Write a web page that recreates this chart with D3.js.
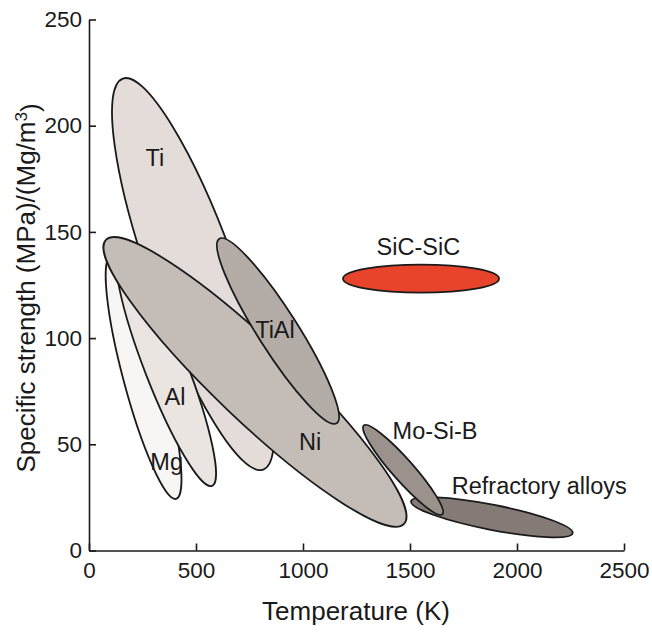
<!DOCTYPE html>
<html>
<head>
<meta charset="utf-8">
<script src="https://cdn.jsdelivr.net/npm/d3@7"></script>
<style>
  html, body { margin: 0; padding: 0; background: #ffffff; }
  svg { display: block; }
  text { font-family: "Liberation Sans", Arial, Helvetica, sans-serif; fill: #1a1a1a; }
</style>
</head>
<body>
<svg id="chart" width="652" height="632"></svg>
<script>
// Material property fields: each field is an ellipse whose long axis runs
// from (tempLow, strengthHigh) to (tempHigh, strengthLow).
const materials    = ["Ti", "Mg", "Al", "Ni", "TiAl", "Refractory alloys", "Mo-Si-B", "SiC-SiC"];
const tempLow      = [158, 103, 145,   79,  609, 1505, 1284, 1187];
const strengthHigh = [222.2, 138.7, 141.5, 146.2, 146.8, 23.1, 58.9, 128];
const tempHigh     = [814, 407, 575, 1472, 1157, 2260, 1651, 1916];
const strengthLow  = [38.1, 24.3, 30.4, 12.5, 59.9, 8.2, 17.0, 128];
// spread of each field across its long axis (minor / major)
const spread       = [0.207, 0.16, 0.166, 0.19, 0.183, 0.152, 0.18, 0.18];

// where each field's name sits
const labelTemp     = [308, 363, 402, 1033, 869, 2104, 1617, 1539];
const labelStrength = [184.8, 41.8, 72.4, 51.2, 103.8, 30.8, 56.4, 143];

const xTicks = [0, 500, 1000, 1500, 2000, 2500];
const yTicks = [0, 50, 100, 150, 200, 250];

const fillColor = d3.scaleOrdinal()
  .domain(materials)
  .range(["#e3dcd9", "#f8f6f5", "#ebe5e2", "#c4bcb7", "#b4aca7", "#847b76", "#9b928d", "#e8432b"]);

const svg = d3.select("#chart");
const x = d3.scaleLinear().domain([0, 2500]).range([89, 624]);
const y = d3.scaleLinear().domain([0, 250]).range([550.5, 19.5]);

const fields = materials.map((name, i) => {
  const x1 = x(tempLow[i]), y1 = y(strengthHigh[i]);
  const x2 = x(tempHigh[i]), y2 = y(strengthLow[i]);
  const rx = Math.hypot(x2 - x1, y2 - y1) / 2;
  return {
    name,
    cx: (x1 + x2) / 2,
    cy: (y1 + y2) / 2,
    rx,
    ry: rx * spread[i],
    angle: Math.atan2(y2 - y1, x2 - x1) * 180 / Math.PI
  };
});

svg.append("g").selectAll("ellipse")
  .data(fields)
  .join("ellipse")
  .attr("cx", d => d.cx)
  .attr("cy", d => d.cy)
  .attr("rx", d => d.rx)
  .attr("ry", d => d.ry)
  .attr("transform", d => `rotate(${d.angle} ${d.cx} ${d.cy})`)
  .attr("fill", d => fillColor(d.name))
  .attr("stroke", "#1a1a1a")
  .attr("stroke-width", 1.8);

svg.append("g").selectAll("text")
  .data(materials)
  .join("text")
  .attr("x", (d, i) => x(labelTemp[i]))
  .attr("y", (d, i) => y(labelStrength[i]))
  .attr("dy", "0.36em")
  .attr("text-anchor", "middle")
  .style("font-size", "23.5px")
  .text(d => d);

// axes with inward ticks
const xAxis = svg.append("g")
  .attr("transform", `translate(0,${y(0)})`)
  .call(d3.axisBottom(x).tickValues(xTicks).tickFormat(d3.format("d"))
    .tickSizeInner(-7).tickSizeOuter(0).tickPadding(12));
const yAxis = svg.append("g")
  .attr("transform", `translate(${x(0)},0)`)
  .call(d3.axisLeft(y).tickValues(yTicks).tickFormat(d3.format("d"))
    .tickSizeInner(-7).tickSizeOuter(0).tickPadding(7));

[xAxis, yAxis].forEach(g => {
  g.select(".domain").attr("stroke", "#1a1a1a").attr("stroke-width", 1.6);
  g.selectAll(".tick line").attr("stroke", "#1a1a1a").attr("stroke-width", 1.6);
  g.selectAll(".tick text").style("font-size", "22.5px").attr("fill", "#1a1a1a")
    .style("font-family", "'Liberation Sans', Arial, sans-serif");
});

svg.append("text")
  .attr("x", 356)
  .attr("y", 620)
  .attr("text-anchor", "middle")
  .style("font-size", "26px")
  .text("Temperature (K)");

const yTitle = svg.append("text")
  .attr("transform", "translate(35,288) rotate(-90)")
  .attr("text-anchor", "middle")
  .style("font-size", "26px");
yTitle.append("tspan").text("Specific strength (MPa)/(Mg/m");
yTitle.append("tspan").attr("dy", "-0.45em").style("font-size", "17px").text("3");
yTitle.append("tspan").attr("dy", "0.45em").text(")");
</script>
</body>
</html>
